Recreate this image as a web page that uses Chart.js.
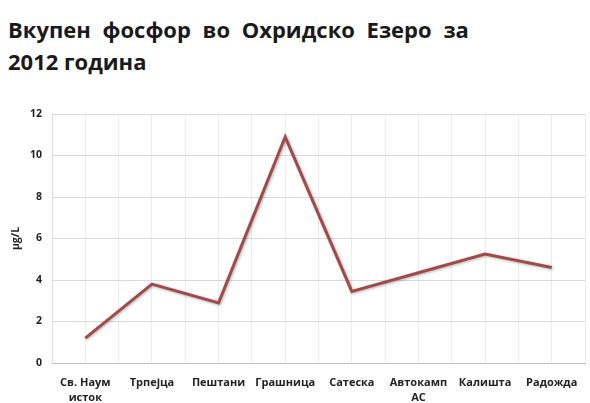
<!DOCTYPE html>
<html>
<head>
<meta charset="utf-8">
<script src="https://cdn.jsdelivr.net/npm/chart.js@4"></script>
<style>
    body { margin: 0; background: #fff; }
    #wrap { position: relative; width: 590px; height: 403px; }
    #title {
        position: absolute; left: 8px; top: 13px;
        font-family: "Open Sans", sans-serif; font-weight: bold;
        font-size: 22px; line-height: 32px; color: #1a1a1a;
        word-spacing: 6px;
    }
    canvas { position: absolute; left: 0; top: 0; }
</style>
</head>
<body>
<div id="wrap">
    <div id="title">Вкупен фосфор во Охридско Езеро за<br><span style="word-spacing:0">2012 година</span></div>
    <canvas id="phosChart" width="590" height="403"></canvas>
</div>
<script>
const lokacii = [['Св. Наум', 'исток'], 'Трпејца', 'Пештани', 'Грашница', 'Сатеска', ['Автокамп', 'АС'], 'Калишта', 'Радожда'];
const fosfor = [1.2, 3.8, 2.9, 10.9, 3.45, 4.35, 5.25, 4.6];
const yTicks = [0, 2, 4, 6, 8, 10, 12];

const fontX = { family: '"Open Sans", sans-serif', size: 11, weight: 'bold', lineHeight: 1.3 };
const fontY = { family: '"Open Sans", sans-serif', size: 10.5, weight: 'bold' };

// senka pod linijata
const senka = {
    id: 'senka',
    beforeDatasetDraw(chart) {
        const ctx = chart.ctx;
        ctx.save();
        ctx.shadowColor = 'rgba(0,0,0,0.3)';
        ctx.shadowBlur = 3;
        ctx.shadowOffsetX = 1;
        ctx.shadowOffsetY = 1;
    },
    afterDatasetDraw(chart) {
        chart.ctx.restore();
    }
};

const ctx = document.getElementById('phosChart').getContext('2d');

new Chart(ctx, {
    type: 'line',
    data: {
        labels: lokacii,
        datasets: [{
            data: fosfor,
            borderColor: '#a24a4a',
            borderWidth: 3,
            pointRadius: 0,
            tension: 0,
            fill: false
        }]
    },
    options: {
        responsive: false,
        animation: false,
        layout: { padding: { top: 114, left: 10, right: 5, bottom: 0 } },
        plugins: { legend: { display: false }, tooltip: { enabled: false } },
        scales: {
            x: {
                offset: true,
                grid: { display: false },
                border: { color: '#bfbfbf' },
                ticks: { color: '#222', font: fontX, padding: 5, maxRotation: 0, autoSkip: false },
                afterFit(scale) { scale.height = 40; }
            },
            xg: {
                type: 'linear',
                position: 'bottom',
                min: 0,
                max: 16,
                ticks: { display: false, stepSize: 1 },
                grid: { color: '#ececec', drawTicks: false },
                border: { display: false },
                afterFit(scale) { scale.height = 0; }
            },
            y: {
                min: 0,
                max: 12,
                afterBuildTicks(scale) { scale.ticks = yTicks.map(v => ({ value: v })); },
                grid: { color: '#d9d9d9', drawTicks: false },
                border: { color: '#d9d9d9' },
                ticks: { color: '#222', font: fontY, padding: 10 },
                title: { display: true, text: 'μg/L', color: '#222', font: fontY, padding: 0 },
                afterFit(scale) { scale.width = 42; }
            }
        }
    },
    plugins: [senka]
});
</script>
</body>
</html>
